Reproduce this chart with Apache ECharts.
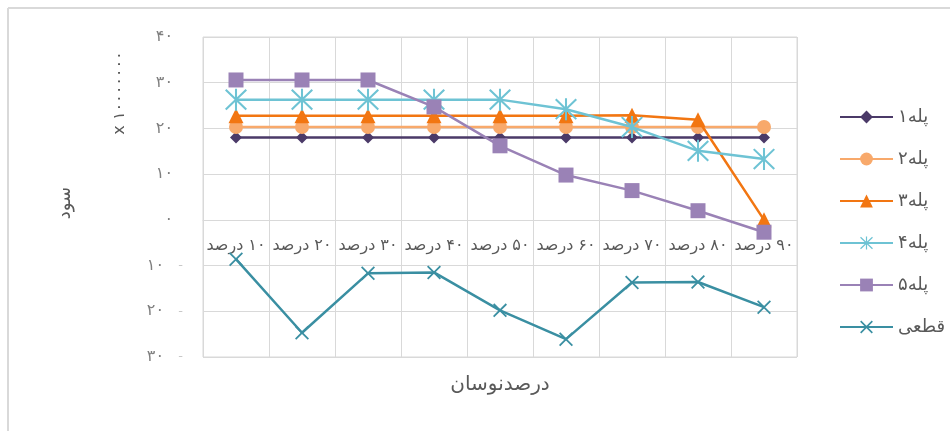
<!DOCTYPE html>
<html><head><meta charset="utf-8">
<script src="https://cdn.jsdelivr.net/npm/echarts@6/dist/echarts.min.js"></script>
<style>html,body{margin:0;padding:0;background:#fff}#c{width:950px;height:431px}</style>
</head><body><div id="c"></div><script>
// ---- data ----
const categories = [10, 20, 30, 40, 50, 60, 70, 80, 90];
const step1 = [18, 18, 18, 18, 18, 18, 18, 18, 18];
const step2 = [20.3, 20.3, 20.3, 20.3, 20.3, 20.3, 20.3, 20.3, 20.3];
const step3 = [22.8, 22.8, 22.8, 22.8, 22.8, 22.8, 22.9, 21.9, 0];
const step4 = [26.3, 26.3, 26.3, 26.3, 26.3, 24.2, 20.3, 15.1, 13.3];
const step5 = [30.6, 30.6, 30.6, 24.7, 16.2, 9.8, 6.4, 2.0, -2.7];
const definite = [-8.6, -24.7, -11.7, -11.5, -19.8, -26.1, -13.7, -13.6, -19.1];
const seriesNames = ['پله۱', 'پله۲', 'پله۳', 'پله۴', 'پله۵', 'قطعی'];
const yMin = -30, yMax = 40, yStep = 10;
const xTitle = 'درصدنوسان';
const yTitle = 'سود';
const yUnit = 'x ۱۰۰۰۰۰۰۰';

// ---- helpers ----
const fa = n => String(n).replace(/\d/g, d => '۰۱۲۳۴۵۶۷۸۹'[d]);
const FONT = 'DejaVu Sans';
const GRID_TOP = 37, GRID_H = 320;
// distance from the bottom of the plot up to the zero line
const zeroOffset = GRID_H * (0 - yMin) / (yMax - yMin);

// symbols as filled polygons
const asteriskPath = 'path://M-0.9,-10L0.9,-10L0.9,10L-0.9,10Z' +
  'M-9.64,-8.36L-8.36,-9.64L9.64,8.36L8.36,9.64Z' +
  'M-9.64,8.36L8.36,-9.64L9.64,-8.36L-8.36,9.64Z';
const xPath = 'path://M-10,-8.2L-8.2,-10L10,8.2L8.2,10Z' +
  'M-10,8.2L8.2,-10L10,-8.2L-8.2,10Z';

const colors = ['#4b3a68', '#f8a96b', '#f27612', '#6ec3d4', '#9a82b6', '#3a8fa2'];
const symbols = ['diamond', 'circle', 'triangle', asteriskPath, 'rect', xPath];
const sizes = [12, 14, 15, 22, 15, 14];
const dataSets = [step1, step2, step3, step4, step5, definite];

const chart = echarts.init(document.getElementById('c'), null, { renderer: 'canvas' });

const series = seriesNames.map((name, i) => ({
  name,
  type: 'line',
  data: dataSets[i],
  symbol: symbols[i],
  symbolSize: sizes[i],
  showAllSymbol: true,
  lineStyle: { color: colors[i], width: 2.5 },
  itemStyle: { color: colors[i] },
  emphasis: { disabled: true },
  animation: false,
  z: 2 + i
}));

chart.setOption({
  animation: false,
  textStyle: { fontFamily: FONT },
  grid: { left: 203, top: GRID_TOP, width: 594, height: GRID_H, show: true, borderColor: '#d9d9d9', borderWidth: 1 },
  xAxis: {
    type: 'category',
    position: 'bottom',
    offset: -zeroOffset,
    data: categories.map(c => '\u200F' + fa(c) + ' درصد'),
    boundaryGap: true,
    axisLine: { show: true, onZero: false, lineStyle: { color: '#d9d9d9', width: 1 } },
    axisTick: { show: false },
    axisLabel: { interval: 0, color: '#595959', fontSize: 16, fontFamily: FONT, margin: 18 },
    splitLine: { show: true, interval: 0, lineStyle: { color: '#d9d9d9', width: 1 } }
  },
  yAxis: {
    type: 'value',
    min: yMin, max: yMax, interval: yStep,
    axisLine: { show: false },
    axisTick: { show: false },
    splitLine: { show: true, lineStyle: { color: '#d9d9d9', width: 1 } },
    axisLabel: {
      margin: 20,
      color: '#7f7f7f',
      fontSize: 16,
      fontFamily: FONT,
      formatter: v => v >= 0 ? fa(v) + '{p|}' : fa(-v) + '{q|-}',
      rich: {
        p: { width: 10 },
        q: { width: 19, align: 'right', color: '#c8c8c8', fontSize: 13 }
      }
    }
  },
  legend: {
    orient: 'vertical',
    left: 839,
    top: 108,
    padding: 0,
    itemWidth: 53,
    itemHeight: 16,
    itemGap: 24,
    textStyle: { color: '#595959', fontSize: 18, fontFamily: FONT },
    data: seriesNames
  },
  graphic: [
    { type: 'line', shape: { x1: 8, y1: 8, x2: 950, y2: 8 }, style: { stroke: '#d9d9d9', lineWidth: 2 } },
    { type: 'line', shape: { x1: 8, y1: 8, x2: 8, y2: 431 }, style: { stroke: '#d9d9d9', lineWidth: 2 } },
    { type: 'text', x: 65, y: 203, rotation: Math.PI / 2,
      style: { text: yTitle, fill: '#595959', font: '18px "DejaVu Sans"', align: 'center', verticalAlign: 'middle' } },
    { type: 'text', x: 120, y: 93, rotation: Math.PI / 2,
      style: { text: yUnit, fill: '#595959', font: '16px "DejaVu Sans"', align: 'center', verticalAlign: 'middle' } },
    { type: 'text', x: 500, y: 385,
      style: { text: xTitle, fill: '#595959', font: '20px "DejaVu Sans"', align: 'center', verticalAlign: 'middle' } }
  ],
  series
});
</script></body></html>
